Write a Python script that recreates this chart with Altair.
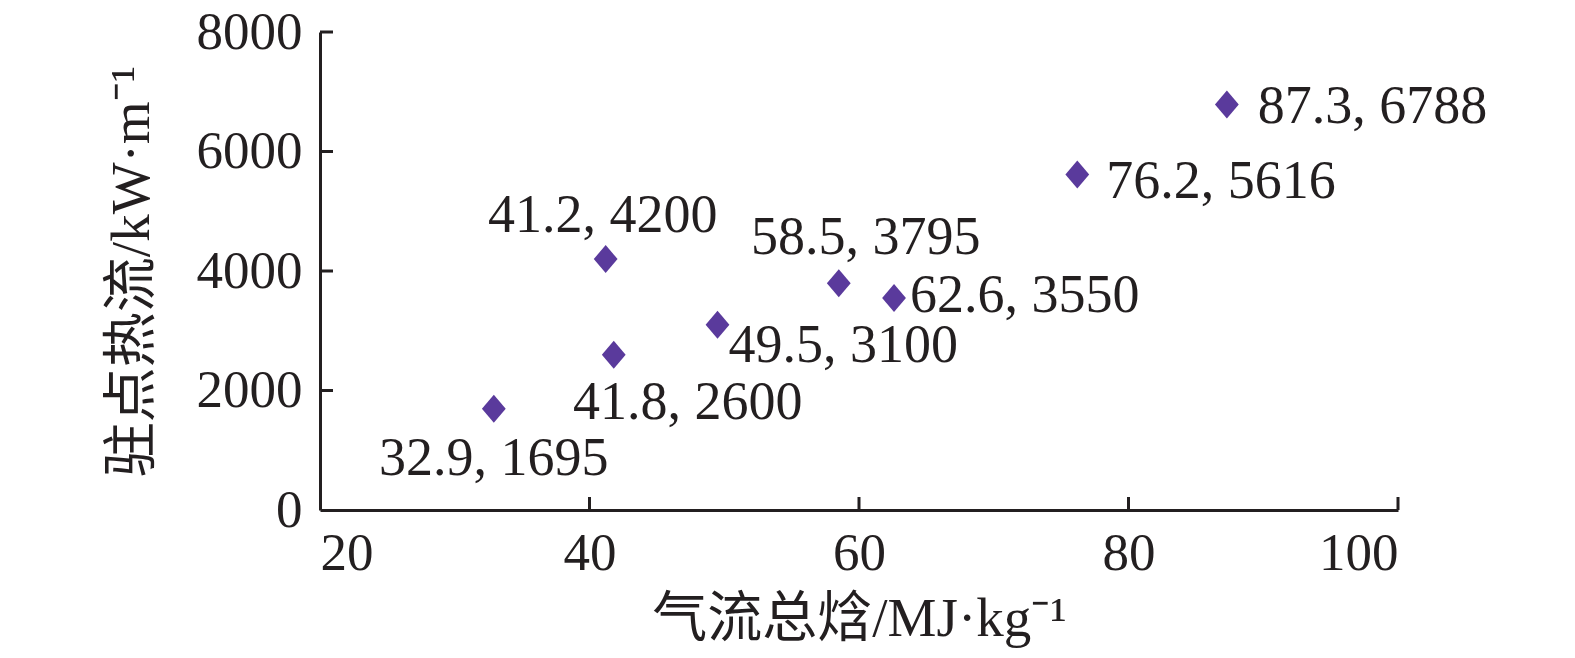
import altair as alt
import pandas as pd

# data
enthalpy = [87.3, 76.2, 41.2, 58.5, 62.6, 49.5, 41.8, 32.9]
heat_flux = [6788, 5616, 4200, 3795, 3550, 3100, 2600, 1695]
x_ticks = [40, 60, 80, 100]
y_ticks = [2000, 4000, 6000, 8000]

x_title = "气流总焓/MJ·kg⁻¹"
y_title = "驻点热流/kW·m⁻¹"

df = pd.DataFrame({"x": enthalpy, "y": heat_flux})
df["label"] = [f"{a}, {b}" for a, b in zip(enthalpy, heat_flux)]

FONT = "Liberation Serif, Noto Sans CJK SC"
INK = "#231f20"
MARK = "#5a3a9c"
W, H = 1078, 478

xs = alt.Scale(domain=[20, 100], nice=False, zero=False)
ys = alt.Scale(domain=[0, 8000], nice=False)

points = alt.Chart(df).mark_point(
    shape="M0,-1L0.85,0L0,1L-0.85,0Z", filled=True, size=784, color=MARK, opacity=1
).encode(
    x=alt.X("x:Q", scale=xs, axis=alt.Axis(
        title=x_title, values=x_ticks + [20], tickSize=0, labelPadding=17,
        titlePadding=12, grid=False, format="d")),
    y=alt.Y("y:Q", scale=ys, axis=alt.Axis(
        title=y_title, values=y_ticks + [0], tickSize=0, labelPadding=18,
        titlePadding=36, grid=False, format="d")),
)

# label placement (align, dx, dy) per point
placements = [
    ("left", 31, 19),
    ("left", 29, 24),
    ("center", -3, -27),
    ("center", 27, -29),
    ("left", 16, 14),
    ("left", 11, 37),
    ("center", 74, 64),
    ("center", 0, 66),
]

layers = []
for i, (al, dx, dy) in enumerate(placements):
    layers.append(
        alt.Chart(df.iloc[[i]]).mark_text(
            align=al, baseline="alphabetic", dx=dx, dy=dy,
            font=FONT, fontSize=54, color=INK
        ).encode(x=alt.X("x:Q", scale=xs), y=alt.Y("y:Q", scale=ys), text="label:N")
    )

ytick_df = pd.DataFrame({"v": y_ticks})
xtick_df = pd.DataFrame({"v": x_ticks})

yticks = alt.Chart(ytick_df).mark_rule(color=INK, strokeWidth=3).encode(
    y=alt.Y("v:Q", scale=ys), x=alt.value(0), x2=alt.value(13)
)
xticks = alt.Chart(xtick_df).mark_rule(color=INK, strokeWidth=3).encode(
    x=alt.X("v:Q", scale=xs), y=alt.value(H), y2=alt.value(H - 13)
)

chart = alt.layer(yticks, xticks, points, *layers).properties(
    width=W, height=H,
    autosize=alt.AutoSizeParams(type="none"),
    padding={"left": 312, "top": 24, "right": 169, "bottom": 140},
).configure_view(stroke=None).configure_axis(
    domainColor=INK, domainWidth=3, labelColor=INK, titleColor=INK,
    labelFont=FONT, titleFont=FONT, titleFontWeight="normal",
    labelFontSize=53, titleFontSize=55,
)

chart.save("out.html", embed_options={"renderer": "svg", "actions": False})
